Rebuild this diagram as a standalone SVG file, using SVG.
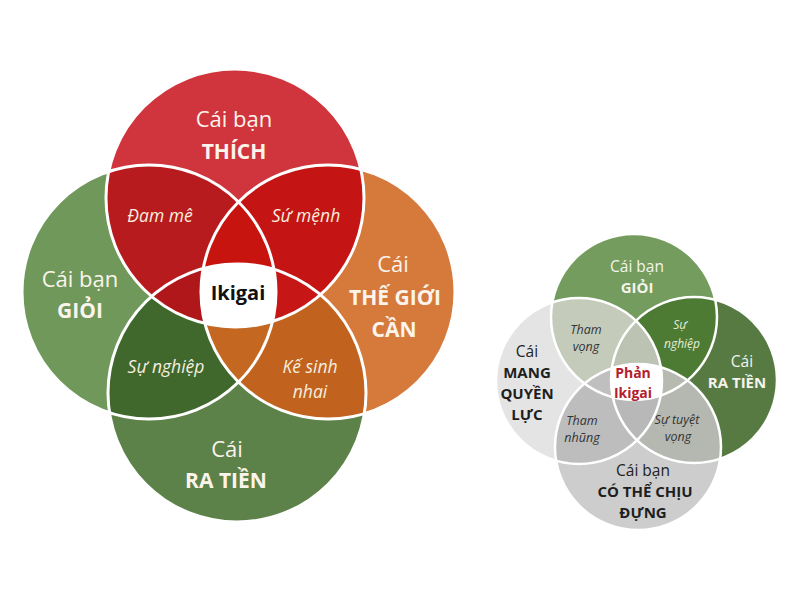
<svg xmlns="http://www.w3.org/2000/svg" xmlns:xlink="http://www.w3.org/1999/xlink" width="796" height="596" viewBox="0 0 796 596">
<style>
text{font-family:"Open Sans","Noto Sans","Liberation Sans",sans-serif;text-anchor:middle}
.lr{font-size:22px;fill:#FBF4EC}
.lb{font-size:21px;font-weight:700;fill:#FBF4EC}
.li{font-size:17.5px;font-style:italic;fill:#F6EEDF}
.ik{font-size:20px;font-weight:700;fill:#111}
.rrw{font-size:15.5px;fill:#F4F4EC}
.rbw{font-size:15px;font-weight:700;fill:#F4F4EC}
.rrd{font-size:15.5px;fill:#222}
.rbd{font-size:15px;font-weight:700;fill:#1E1E1E}
.ri{font-size:12.5px;font-style:italic;fill:#333}
.rig{font-size:12px;font-style:italic;fill:#E4EED6}
.pk{font-size:14px;font-weight:700;fill:#B3202E}
.ol{fill:none;stroke:#fff;stroke-width:3}
.ol2{fill:none;stroke:#fff;stroke-width:2.5}
</style>
<defs>
<circle id="sT" cx="235" cy="198" r="129"/>
<circle id="sB" cx="237" cy="393" r="129"/>
<circle id="sL" cx="149" cy="292" r="127"/>
<circle id="sR" cx="328" cy="292" r="127"/>
<clipPath id="cT"><use xlink:href="#sT"/></clipPath>
<clipPath id="cB"><use xlink:href="#sB"/></clipPath>
<clipPath id="cL"><use xlink:href="#sL"/></clipPath>
<clipPath id="cR"><use xlink:href="#sR"/></clipPath>
<circle id="pT" cx="634" cy="317" r="83"/>
<circle id="pB" cx="638" cy="447" r="83"/>
<circle id="pL" cx="579" cy="381" r="83"/>
<circle id="pR" cx="694" cy="380" r="83"/>
<clipPath id="qT"><use xlink:href="#pT"/></clipPath>
<clipPath id="qB"><use xlink:href="#pB"/></clipPath>
<clipPath id="qL"><use xlink:href="#pL"/></clipPath>
<clipPath id="qR"><use xlink:href="#pR"/></clipPath>
</defs>
<rect width="796" height="596" fill="#fff"/>

<!-- Left diagram: Ikigai -->
<g id="ikigai-diagram">
<g id="node-gioi"><use xlink:href="#sL" fill="#6F985A"/></g>
<g id="node-ratien"><use xlink:href="#sB" fill="#5D8249"/></g>
<g id="node-thegioican"><use xlink:href="#sR" fill="#D67A3C"/></g>
<g id="node-thich"><use xlink:href="#sT" fill="#D0343C"/></g>
<g id="overlaps">
<g clip-path="url(#cT)"><use xlink:href="#sL" fill="#B71B1E"/></g>
<g clip-path="url(#cT)"><use xlink:href="#sR" fill="#C41414"/></g>
<g clip-path="url(#cL)"><use xlink:href="#sB" fill="#40682D"/></g>
<g clip-path="url(#cR)"><use xlink:href="#sB" fill="#C1621E"/></g>
<g clip-path="url(#cT)"><g clip-path="url(#cL)"><use xlink:href="#sR" fill="#C8140F"/></g></g>
<g clip-path="url(#cT)"><g clip-path="url(#cL)"><use xlink:href="#sB" fill="#B0171A"/></g></g>
<g clip-path="url(#cT)"><g clip-path="url(#cR)"><use xlink:href="#sB" fill="#C71616"/></g></g>
<g clip-path="url(#cL)"><g clip-path="url(#cR)"><use xlink:href="#sB" fill="#C46720"/></g></g>
<g clip-path="url(#cT)"><g clip-path="url(#cL)"><g clip-path="url(#cR)"><use xlink:href="#sB" fill="#FFFFFF"/></g></g></g>
</g>
<g id="outlines">
<use xlink:href="#sT" class="ol"/>
<use xlink:href="#sB" class="ol"/>
<use xlink:href="#sL" class="ol"/>
<use xlink:href="#sR" class="ol"/>
</g>
<g id="label-thich"><text class="lr" x="234" y="127">Cái bạn</text><text class="lb" x="234" y="159">THÍCH</text></g>
<g id="label-gioi"><text class="lr" x="80" y="287">Cái bạn</text><text class="lb" x="80" y="318">GIỎI</text></g>
<g id="label-thegioican"><text class="lr" x="393" y="272">Cái</text><text class="lb" x="395" y="305">THẾ GIỚI</text><text class="lb" x="394" y="337">CẦN</text></g>
<g id="label-ratien"><text class="lr" x="227" y="457">Cái</text><text class="lb" x="226" y="488">RA TIỀN</text></g>
<g id="label-damme"><text class="li" x="160" y="222">Đam mê</text></g>
<g id="label-sumenh"><text class="li" x="306" y="222">Sứ mệnh</text></g>
<g id="label-sunghiep"><text class="li" x="166" y="373">Sự nghiệp</text></g>
<g id="label-kesinhnhai"><text class="li" x="310" y="373">Kế sinh</text><text class="li" x="310" y="398">nhai</text></g>
<g id="label-ikigai"><text class="ik" x="238" y="300">Ikigai</text></g>
</g>

<!-- Right diagram: Phản Ikigai -->
<g id="phan-ikigai-diagram">
<g id="node-r-quyenluc"><use xlink:href="#pL" fill="#E4E4E4"/></g>
<g id="node-r-chiudung"><use xlink:href="#pB" fill="#CDCDCD"/></g>
<g id="node-r-ratien"><use xlink:href="#pR" fill="#567A42"/></g>
<g id="node-r-gioi"><use xlink:href="#pT" fill="#739C5E"/></g>
<g id="r-overlaps">
<g clip-path="url(#qT)"><use xlink:href="#pL" fill="#C4CBBB"/></g>
<g clip-path="url(#qT)"><use xlink:href="#pR" fill="#4E7B34"/></g>
<g clip-path="url(#qL)"><use xlink:href="#pB" fill="#BDBDBD"/></g>
<g clip-path="url(#qR)"><use xlink:href="#pB" fill="#B5B8B0"/></g>
<g clip-path="url(#qT)"><g clip-path="url(#qL)"><use xlink:href="#pR" fill="#BCC3B2"/></g></g>
<g clip-path="url(#qT)"><g clip-path="url(#qL)"><use xlink:href="#pB" fill="#BFBFBF"/></g></g>
<g clip-path="url(#qT)"><g clip-path="url(#qR)"><use xlink:href="#pB" fill="#B7BAB0"/></g></g>
<g clip-path="url(#qL)"><g clip-path="url(#qR)"><use xlink:href="#pB" fill="#B8B8B8"/></g></g>
<g clip-path="url(#qT)"><g clip-path="url(#qL)"><g clip-path="url(#qR)"><use xlink:href="#pB" fill="#FFFFFF"/></g></g></g>
</g>
<g id="r-outlines">
<use xlink:href="#pT" class="ol2"/>
<use xlink:href="#pB" class="ol2"/>
<use xlink:href="#pL" class="ol2"/>
<use xlink:href="#pR" class="ol2"/>
</g>
<g id="label-r-gioi"><text class="rrw" x="637" y="272">Cái bạn</text><text class="rbw" x="637" y="293">GIỎI</text></g>
<g id="label-r-ratien"><text class="rrw" x="742" y="367">Cái</text><text class="rbw" x="737" y="388">RA TIỀN</text></g>
<g id="label-r-quyenluc"><text class="rrd" x="527" y="357">Cái</text><text class="rbd" x="527" y="378">MANG</text><text class="rbd" x="527" y="399">QUYỀN</text><text class="rbd" x="527" y="420">LỰC</text></g>
<g id="label-r-chiudung"><text class="rrd" x="643" y="476">Cái bạn</text><text class="rbd" x="645" y="497">CÓ THỂ CHỊU</text><text class="rbd" x="643" y="518">ĐỰNG</text></g>
<g id="label-r-thamvong"><text class="ri" x="586" y="334">Tham</text><text class="ri" x="586" y="351">vọng</text></g>
<g id="label-r-sunghiep"><text class="rig" x="680" y="329">Sự</text><text class="rig" x="682" y="348">nghiệp</text></g>
<g id="label-r-thamnhung"><text class="ri" x="582" y="425">Tham</text><text class="ri" x="582" y="442">nhũng</text></g>
<g id="label-r-tuyetvong"><text class="ri" x="677" y="424">Sự tuyệt</text><text class="ri" x="678" y="441">vọng</text></g>
<g id="label-r-phanikigai"><text class="pk" x="633" y="378">Phản</text><text class="pk" x="633" y="398">Ikigai</text></g>
</g>
</svg>
